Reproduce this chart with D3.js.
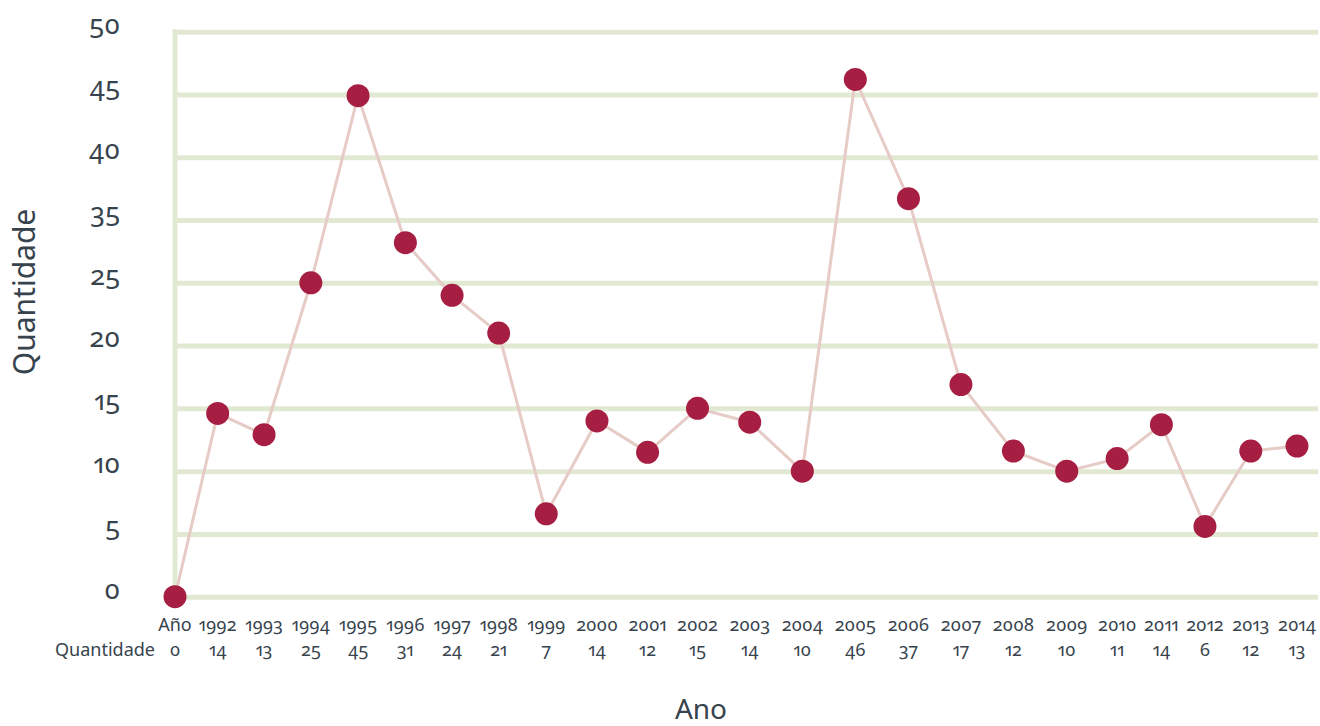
<!DOCTYPE html>
<html>
<head>
<meta charset="utf-8">
<script src="https://cdn.jsdelivr.net/npm/d3@7"></script>
<style>
  html, body { margin: 0; padding: 0; background: #ffffff; }
  svg { display: block; }
  text { font-family: "Noto Sans", "Open Sans", sans-serif; fill: #37434d;
         font-variant-numeric: oldstyle-nums proportional-nums; }
</style>
</head>
<body>
<svg id="chart" width="1320" height="726"></svg>
<script>
// ---- data ----
const categories = ["Año","1992","1993","1994","1995","1996","1997","1998","1999","2000",
  "2001","2002","2003","2004","2005","2006","2007","2008","2009","2010","2011","2012","2013","2014"];
// values printed in the table under the axis
const tableValues = ["0","14","13","25","45","31","24","21","7","14","12","15","14","10",
  "46","37","17","12","10","11","14","6","12","13"];
// values as plotted (read from point positions)
const values = [0, 14.6, 12.9, 25, 44.9, 31.4, 24, 21, 6.6, 14, 11.5, 15, 13.9, 10,
  46.2, 36.7, 16.9, 11.6, 10, 11, 13.7, 5.6, 11.6, 12];
const yTickValues = [0, 5, 10, 15, 20, 25, 35, 40, 45, 50];
const rowLabel = "Quantidade";
const yTitle = "Quantidade";
const xTitle = "Ano";

// ---- layout ----
const svg = d3.select("#chart");
const plotLeft = 175, plotRight = 1318, firstX = 175, lastX = 1297;
const yTop = 31.7, yBottom = 596.7;
const step = (yBottom - yTop) / (yTickValues.length - 1);

// y scale: ticks evenly spaced (the axis skips 30)
const y = d3.scaleLinear()
  .domain(yTickValues)
  .range(yTickValues.map((d, i) => yBottom - i * step));

// table: measure year labels to build column positions
const tableFont = 18;
const table = svg.append("g");
const yearText = table.selectAll("text.year").data(categories).join("text")
  .attr("class", "year")
  .attr("font-size", tableFont)
  .attr("text-anchor", "middle")
  .attr("y", 631)
  .text(d => d);
const widths = [];
yearText.each(function () { widths.push(this.getComputedTextLength()); });
const gap = -13;
const raw = [0];
for (let i = 1; i < widths.length; i++) {
  raw.push(raw[i - 1] + widths[i - 1] / 2 + gap + widths[i] / 2);
}
const toPx = d3.scaleLinear().domain([raw[0], raw[raw.length - 1]]).range([firstX, lastX]);
const x = d3.scaleOrdinal().domain(categories).range(raw.map(toPx));

yearText.attr("x", d => x(d));

table.selectAll("text.val").data(categories).join("text")
  .attr("class", "val")
  .attr("font-size", tableFont)
  .attr("text-anchor", "middle")
  .attr("x", d => x(d))
  .attr("y", 656)
  .text((d, i) => tableValues[i]);

table.append("text")
  .attr("font-size", tableFont)
  .attr("text-anchor", "end")
  .attr("x", 155)
  .attr("y", 656)
  .text(rowLabel);

// grid
const gridColor = "#e2e9d3";
const grid = svg.append("g")
  .attr("transform", `translate(${plotLeft},0)`)
  .call(d3.axisLeft(y).tickValues(yTickValues).tickSize(-(plotRight - plotLeft)).tickFormat(""));
grid.select(".domain").remove();
grid.selectAll(".tick line").attr("stroke", gridColor).attr("stroke-width", 5);

// vertical axis line
svg.append("line")
  .attr("x1", plotLeft).attr("x2", plotLeft)
  .attr("y1", yTop - 2.5).attr("y2", yBottom + 2.5)
  .attr("stroke", gridColor).attr("stroke-width", 5);

// y tick labels
const yAxis = svg.append("g")
  .attr("transform", `translate(${plotLeft},0)`)
  .call(d3.axisLeft(y).tickValues(yTickValues).tickSize(0).tickPadding(55).tickFormat(d => String(d)));
yAxis.select(".domain").remove();
yAxis.selectAll("text")
  .attr("font-size", 27)
  .attr("dy", "0.05em")
  .style("font-family", "\"Noto Sans\", sans-serif")
  .attr("fill", "#37434d");

// line + points
const line = d3.line().x((d, i) => x(categories[i])).y(d => y(d));
svg.append("path")
  .datum(values)
  .attr("fill", "none")
  .attr("stroke", "#e6cbc6")
  .attr("stroke-width", 3)
  .attr("d", line);

svg.append("g").selectAll("circle").data(values).join("circle")
  .attr("cx", (d, i) => x(categories[i]))
  .attr("cy", d => y(d))
  .attr("r", 11.5)
  .attr("fill", "#a61f43");

// titles
svg.append("text")
  .attr("font-size", 30)
  .attr("text-anchor", "middle")
  .attr("transform", "translate(35,292) rotate(-90)")
  .text(yTitle);

svg.append("text")
  .attr("font-size", 28)
  .attr("text-anchor", "middle")
  .attr("x", 701)
  .attr("y", 719)
  .text(xTitle);
</script>
</body>
</html>
